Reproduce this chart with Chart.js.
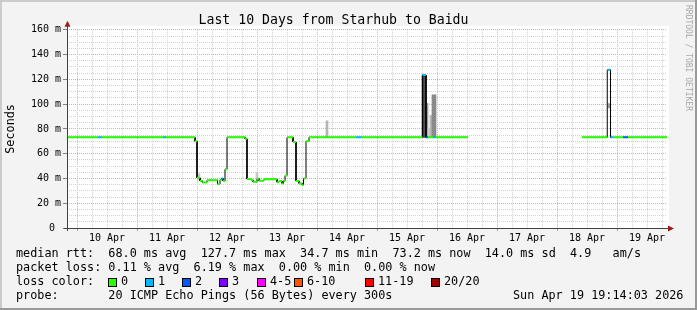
<!DOCTYPE html>
<html>
<head>
<meta charset="utf-8">
<title>Last 10 Days from Starhub to Baidu</title>
<script src="https://cdn.jsdelivr.net/npm/chart.js@4.4.1/dist/chart.umd.min.js"></script>
<style>
  html, body { margin: 0; padding: 0; background: #f3f3f3; }
  canvas { display: block; }
</style>
</head>
<body>
<canvas id="smokeChart" width="697" height="310"></canvas>
<script>
// x values are hours counted from 10 Apr 00:00
const runHour = [-4, 8.5, 9.9, 34.4, 35.6, 47.2, 48.0, 49.2, 50.2, 52.0, 56.2, 57.2, 57.8, 58.4, 59.2,
  60.0, 67.2, 68.0, 69.6, 70.4, 72.0, 72.8, 74.8, 80.0, 80.8, 82.0, 82.6, 83.2, 84.0, 86.4, 87.6,
  88.8, 90.0, 90.6, 91.6, 92.8, 111.6, 113.6, 138.2, 139.6, 140.4, 142.4, 143.6, 156.2, 202.0,
  212.1, 213.4, 214.4, 218.4, 220.4];
const runMedian = [73.2, 73.2, 73.2, 73.2, 73.2, 70, 40.5, 38, 36.8, 38.5, 35.5, 39, 40, 38, 47.5,
  73.2, 72, 39.5, 38.8, 37.4, 39.8, 38.2, 39.3, 37, 38, 36, 38, 42.3, 73.2, 69.5, 38,
  36, 34.7, 40, 70, 73.2, 73.2, 73.2, 123.5, 73.2, 73.2, 73.2, 73.2, null, 73.2,
  127.7, 73.2, 73.2, 73.2, 73.2];
const runLoss = [0, 1, 0, 1, 0, 0, 0, 0, 0, 0, 0, 0, 1, 0, 0,
  0, 0, 0, 0, 0, 0, 0, 0, 0, 0, 0, 0, 0, 0, 0, 0,
  0, 0, 0, 0, 0, 1, 0, 1, 2, 0, 1, 0, 0, 0,
  1, 1, 0, 2, 0];
const endHour = 236;

const smokeHour = [48.8, 72.0, 100.0, 138.4, 139.2, 140.0, 140.8, 141.6, 142.4, 143.2, 212.8];
const smokeLow = [39, 40, 73.2, 73.2, 73.2, 73.2, 73.2, 73.2, 73.2, 73.2, 97];
const smokeHigh = [44, 45, 86.5, 123.5, 123.5, 100.6, 80.5, 91, 107.5, 107.5, 100.5];

const dayLabels = ['10 Apr', '11 Apr', '12 Apr', '13 Apr', '14 Apr', '15 Apr', '16 Apr', '17 Apr', '18 Apr', '19 Apr'];
const lossLabels = ['0', '1', '2', '3', '4-5', '6-10', '11-19', '20/20'];
const lossColors = ['#26ff00', '#00b8ff', '#0059ff', '#7e00ff', '#ff00ff', '#ff5500', '#ff0000', '#a10000'];

const rttLine = 'median rtt:  68.0 ms avg  127.7 ms max  34.7 ms min  73.2 ms now  14.0 ms sd  4.9   am/s';
const lossLine = 'packet loss: 0.11 % avg  6.19 % max  0.00 % min  0.00 % now';
const probeLine = 'probe:       20 ICMP Echo Pings (56 Bytes) every 300s';
const dateLine = 'Sun Apr 19 19:14:03 2026';

// each run becomes a flat piece from its start to the next start
const medianPoints = [];
runHour.forEach((h, i) => {
  const end = i + 1 < runHour.length ? runHour[i + 1] : endHour;
  medianPoints.push({x: h, y: runMedian[i]}, {x: end, y: runMedian[i]});
});
const smokePoints = smokeHour.map((h, i) => ({x: h, y: [smokeLow[i], smokeHigh[i]]}));

const MONO = '"DejaVu Sans Mono"';
const majorGrid = '#eea3a3';
const minorGrid = '#d2d2d2';

const frame = {
  id: 'frame',
  beforeDraw(chart) {
    const {ctx, chartArea: a, width, height} = chart;
    ctx.save();
    ctx.fillStyle = '#f3f3f3';
    ctx.fillRect(0, 0, width, height);
    ctx.fillStyle = '#ffffff';
    ctx.fillRect(a.left, a.top - 4, a.right - a.left + 2, a.bottom - a.top + 4);
    ctx.fillStyle = '#cbcbcb';
    ctx.fillRect(0, 0, width, 2);
    ctx.fillRect(0, 0, 2, height);
    ctx.fillStyle = '#999999';
    ctx.fillRect(0, height - 2, width, 2);
    ctx.fillRect(width - 2, 0, 2, height);
    ctx.restore();
  },
  afterDatasetsDraw(chart) {
    const {ctx, chartArea: a} = chart;
    ctx.save();
    ctx.strokeStyle = '#404040';
    ctx.lineWidth = 1;
    ctx.beginPath();
    ctx.moveTo(a.left - 3, a.bottom + 0.5);
    ctx.lineTo(a.right + 3, a.bottom + 0.5);
    ctx.moveTo(a.left + 0.5, a.bottom + 3);
    ctx.lineTo(a.left + 0.5, a.top - 5);
    ctx.stroke();
    ctx.fillStyle = '#9b1c1c';
    ctx.beginPath();
    ctx.moveTo(a.left + 0.5, a.top - 9);
    ctx.lineTo(a.left - 2.5, a.top - 3);
    ctx.lineTo(a.left + 3.5, a.top - 3);
    ctx.closePath();
    ctx.fill();
    ctx.beginPath();
    ctx.moveTo(a.right + 7, a.bottom + 0.5);
    ctx.lineTo(a.right + 1, a.bottom - 2.5);
    ctx.lineTo(a.right + 1, a.bottom + 3.5);
    ctx.closePath();
    ctx.fill();
    ctx.restore();
  },
  afterDraw(chart) {
    const {ctx} = chart;
    ctx.save();
    ctx.font = '11.8px ' + MONO;
    ctx.fillStyle = '#000000';
    ctx.textBaseline = 'middle';
    ctx.fillText(rttLine, 16, 254);
    ctx.fillText(lossLine, 16, 268);
    ctx.fillText('loss color:', 16, 282);
    ctx.fillText(probeLine, 16, 296);
    ctx.fillText(dateLine, 513, 296);
    const boxX = [108, 145, 182, 219, 257, 294, 365, 431];
    lossLabels.forEach((lab, i) => {
      ctx.fillStyle = lossColors[i];
      ctx.fillRect(boxX[i], 278, 9, 9);
      ctx.strokeStyle = '#000000';
      ctx.lineWidth = 1;
      ctx.strokeRect(boxX[i] + 0.5, 278.5, 8, 8);
      ctx.fillStyle = '#000000';
      ctx.fillText(lab, boxX[i] + 13, 282);
    });
    // rotated watermark on the right edge
    ctx.translate(688, 5);
    ctx.rotate(Math.PI / 2);
    ctx.font = '8px ' + MONO;
    ctx.fillStyle = '#a8a8a8';
    ctx.fillText('RRDTOOL / TOBI OETIKER', 0, 0);
    ctx.restore();
  }
};

Chart.defaults.font.family = MONO;
Chart.defaults.font.size = 10;
Chart.defaults.color = '#000000';

const ctx = document.getElementById('smokeChart').getContext('2d');
const smokeChart = new Chart(ctx, {
  type: 'line',
  data: {
    datasets: [
      {
        label: 'loss colour',
        data: medianPoints,
        borderWidth: 2,
        borderCapStyle: 'butt',
        pointRadius: 0,
        spanGaps: false,
        segment: {
          borderColor: c => c.p0DataIndex % 2 === 0 ? lossColors[runLoss[c.p0DataIndex / 2]] : 'rgba(0,0,0,0)'
        }
      },
      {
        label: 'median',
        data: medianPoints,
        borderColor: '#000000',
        borderWidth: 1,
        pointRadius: 0,
        spanGaps: false
      },
      {
        type: 'bar',
        label: 'smoke',
        data: smokePoints,
        grouped: false,
        barPercentage: 1,
        categoryPercentage: 1,
        borderWidth: 0,
        backgroundColor: ['#c8c8c8', '#c8c8c8', '#b4b4b4', '#3a3a3a', '#505050', '#9a9a9a',
          '#cfcfcf', '#b8b8b8', '#8a8a8a', '#8a8a8a', '#a0a0a0']
      }
    ]
  },
  options: {
    responsive: false,
    animation: false,
    devicePixelRatio: 1,
    layout: { padding: { left: 0, right: 30, top: 0, bottom: 0 } },
    plugins: {
      legend: { display: false },
      tooltip: { enabled: false },
      title: {
        display: true,
        text: 'Last 10 Days from Starhub to Baidu',
        color: '#000000',
        font: { family: MONO, size: 13.2, weight: 'normal' },
        padding: { top: 13, bottom: 1 }
      }
    },
    scales: {
      x: {
        type: 'linear',
        min: -4,
        max: endHour,
        offset: false,
        afterBuildTicks: s => {
          s.ticks = [];
          for (let v = 0; v <= 234; v += 6) s.ticks.push({value: v});
        },
        afterFit: s => { s.height = 82; },
        ticks: {
          autoSkip: false,
          maxRotation: 0,
          padding: 1,
          callback: v => v % 24 === 12 ? dayLabels[(v - 12) / 24] : ''
        },
        grid: {
          offset: false,
          color: c => c.tick && c.tick.value % 24 === 0 ? majorGrid : minorGrid,
          tickColor: c => c.tick && c.tick.value % 24 === 0 ? '#e08080' : 'rgba(0,0,0,0)',
          tickLength: 3
        },
        border: { display: false, dash: [1, 1] }
      },
      y: {
        min: 0,
        max: 160,
        afterBuildTicks: s => {
          s.ticks = [];
          for (let v = 0; v <= 160; v += 5) s.ticks.push({value: v});
        },
        afterFit: s => { s.width = 67; },
        ticks: {
          autoSkip: false,
          padding: 2,
          callback: v => v % 20 ? '' : (v === 0 ? '0 ' : v + ' m')
        },
        grid: {
          color: c => c.tick && c.tick.value % 20 === 0 ? majorGrid : minorGrid,
          tickColor: c => c.tick && c.tick.value % 20 === 0 ? '#808080' : 'rgba(0,0,0,0)',
          tickLength: 4
        },
        border: { display: false, dash: [1, 1] },
        title: {
          display: true,
          text: 'Seconds',
          font: { family: MONO, size: 11.8 },
          padding: { top: 4, bottom: 0 }
        }
      }
    }
  },
  plugins: [frame]
});
</script>
</body>
</html>
